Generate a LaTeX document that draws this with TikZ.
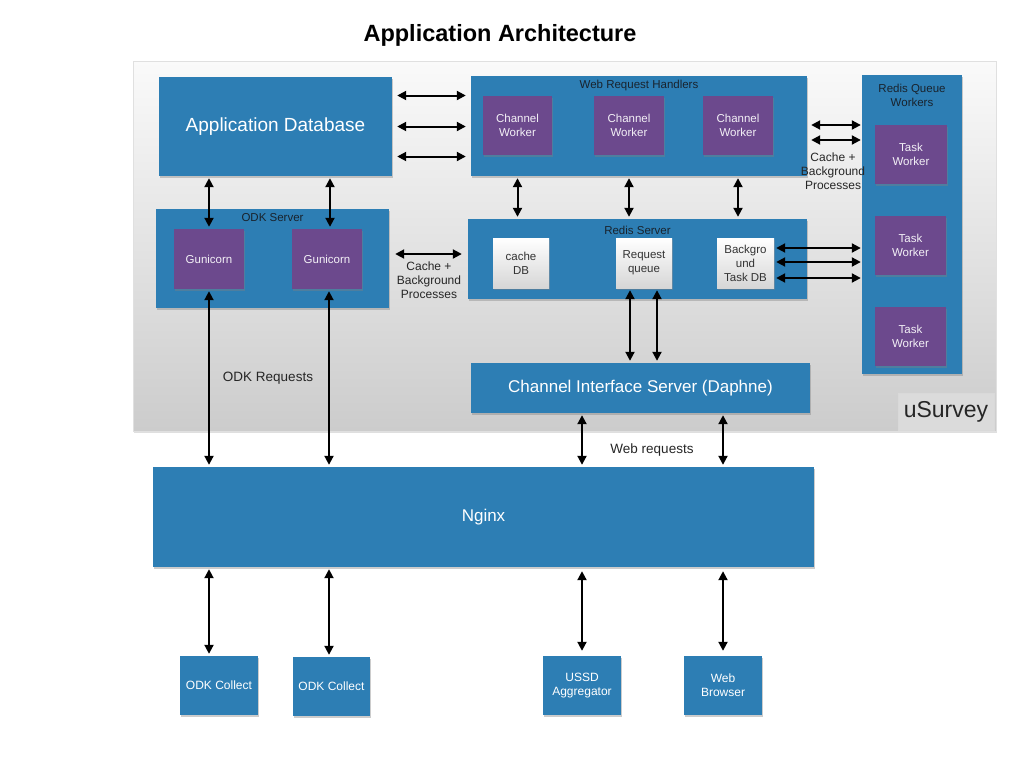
\documentclass[tikz,border=0pt]{standalone}
\usepackage{fontspec}
\setmainfont{Liberation Sans}
\usetikzlibrary{arrows.meta,shadows,calc}
\definecolor{cblue}{RGB}{45,126,180}
\definecolor{cpurple}{RGB}{108,73,141}
\definecolor{labeltxt}{RGB}{25,35,45}
\definecolor{paneltop}{RGB}{250,250,250}
\definecolor{panelbot}{RGB}{204,204,204}
\tikzset{
  fs/.style={font=\fontsize{#1}{14}\selectfont},
  shadowed/.style={drop shadow={shadow xshift=1pt,shadow yshift=-1.5pt,opacity=0.4}},
  bluebox/.style={fill=cblue, draw=none, inner sep=0pt, shadowed, text=white, align=center},
  purplebox/.style={fill=cpurple, draw=none, inner sep=0pt, shadowed, text=white!92!cpurple, align=center, fs=11.5},
  dbbox/.style={top color=white, bottom color=black!16, draw=none, inner sep=0pt, shadowed, text=black!80, align=center, fs=11.5, minimum width=56pt, minimum height=50pt},
  lbl/.style={text=labeltxt, inner sep=0pt, align=center, fs=11.5},
  plain/.style={text=black!85, inner sep=0pt, align=center},
  arr/.style={line width=2pt, {Triangle[length=9pt,width=9pt]}-{Triangle[length=9pt,width=9pt]}, shorten >=2pt, shorten <=2pt}
}
\begin{document}
\begin{tikzpicture}[x=1pt,y=-1pt]
\useasboundingbox (0,0) rectangle (1024,768);
% title
\node[inner sep=0pt, font=\fontsize{23.5}{28}\selectfont\bfseries] (title) at (500,35) {Application Architecture};
% panel
\node[top color=paneltop, bottom color=panelbot, draw=black!12, inner sep=0pt, minimum width=863pt, minimum height=370pt, drop shadow={shadow xshift=1pt,shadow yshift=-1.5pt,opacity=0.25}] (panel) at (564.5,246) {};
\node[fill=black!14, draw=white!70!gray, line width=0.6pt, inner sep=0pt, minimum width=96pt, minimum height=37pt, text=black!85, font=\fontsize{23}{28}\selectfont] (usurvey) at (946,411.5) {uSurvey};
% application database
\node[bluebox, minimum width=233pt, minimum height=99pt, font=\fontsize{19}{23}\selectfont] (appdb) at (275.5,126.5) {Application Database};
% web request handlers
\node[bluebox, minimum width=336pt, minimum height=100pt] (wrh) at (639,126) {};
\node[lbl] (wrhl) at (639,86) {Web Request Handlers};
\node[purplebox, minimum width=69pt, minimum height=59pt] (cw1) at (517.5,125.5) {Channel\\Worker};
\node[purplebox, minimum width=70pt, minimum height=59pt] (cw2) at (629,125.5) {Channel\\Worker};
\node[purplebox, minimum width=70pt, minimum height=59pt] (cw3) at (738,125.5) {Channel\\Worker};
% redis queue workers
\node[bluebox, minimum width=100pt, minimum height=299pt] (rqw) at (912,224.5) {};
\node[lbl] (rqwl) at (912,95) {Redis Queue\\Workers};
\node[purplebox, minimum width=72pt, minimum height=59pt] (tw1) at (911,154.5) {Task\\Worker};
\node[purplebox, minimum width=71pt, minimum height=59pt] (tw2) at (910.5,245.5) {Task\\Worker};
\node[purplebox, minimum width=71pt, minimum height=59pt] (tw3) at (910.5,336.5) {Task\\Worker};
% odk server
\node[bluebox, minimum width=233pt, minimum height=99pt] (odk) at (272.5,258.5) {};
\node[lbl] (odkl) at (272.5,218) {ODK Server};
\node[purplebox, minimum width=70pt, minimum height=60pt] (g1) at (209,259) {Gunicorn};
\node[purplebox, minimum width=70pt, minimum height=60pt] (g2) at (327,259) {Gunicorn};
% redis server
\node[bluebox, minimum width=339pt, minimum height=80pt] (redis) at (637.5,259) {};
\node[lbl] (redisl) at (637.5,230) {Redis Server};
\node[dbbox] (cachedb) at (521,263) {cache\\DB};
\node[dbbox] (reqq) at (644,263) {Request\\queue};
\node[dbbox, minimum width=57pt] (bgdb) at (745.5,263) {Backgro\\und\\Task DB};
% channel interface server
\node[bluebox, minimum width=339pt, minimum height=50pt, font=\fontsize{17}{20}\selectfont] (cis) at (640.5,388) {Channel Interface Server (Daphne)};
% nginx
\node[bluebox, minimum width=661pt, minimum height=100pt, font=\fontsize{17}{20}\selectfont] (nginx) at (483.5,517) {Nginx};
% clients
\node[bluebox, minimum width=78pt, minimum height=59pt, fs=12] (oc1) at (219,685.5) {ODK Collect};
\node[bluebox, minimum width=77pt, minimum height=59pt, fs=12] (oc2) at (331.5,686.5) {ODK Collect};
\node[bluebox, minimum width=78pt, minimum height=59pt, fs=12] (ussd) at (582,685.5) {USSD\\Aggregator};
\node[bluebox, minimum width=78pt, minimum height=59pt, fs=12] (web) at (723,685.5) {Web\\Browser};
% free text
\node[plain, fs=12] (cbg1) at (429,280) {Cache +\\Background\\Processes};
\node[plain, fs=12] (cbg2) at (833,171) {Cache +\\Background\\Processes};
\node[plain, font=\fontsize{13.5}{16}\selectfont] (odkreq) at (268,378) {ODK Requests};
\node[plain, font=\fontsize{13.5}{16}\selectfont] (webreq) at (652,450) {Web requests};
% arrows appdb - wrh
\foreach \d in {-31,0,30} {
  \draw[arr, shorten >=5pt, shorten <=5pt] ($(appdb.east)+(0,\d)$) coordinate (t) -- (t -| wrh.west);
}
% wrh - rqw
\foreach \d in {-1,14} {
  \draw[arr, shorten <=4pt, shorten >=1pt] ($(wrh.east)+(0,\d)$) coordinate (t) -- (t -| rqw.west);
}
% appdb - odk gunicorns
\draw[arr] (g1 |- appdb.south) -- (g1.north);
\draw[arr] ($(g2 |- appdb.south)+(3,0)$) -- ($(g2.north)+(3,0)$);
% wrh - redis
\draw[arr] (cw1 |- wrh.south) -- (cw1 |- redis.north);
\draw[arr] (cw2 |- wrh.south) -- (cw2 |- redis.north);
\draw[arr] (cw3 |- wrh.south) -- (cw3 |- redis.north);
% odk - redis
\draw[arr, shorten >=6pt, shorten <=6pt] ($(odk.east)+(0,-4.5)$) coordinate (t) -- (t -| redis.west);
% bgdb - rqw
\foreach \d in {-15,-1,15} {
  \draw[arr, shorten >=1pt] ($(bgdb.east)+(0,\d)$) coordinate (t) -- (t -| rqw.west);
}
% reqq - cis
\draw[arr] ($(reqq.south)+(-14,0)$) coordinate (t) -- (t |- cis.north);
\draw[arr] ($(reqq.south)+(13,0)$) coordinate (t) -- (t |- cis.north);
% gunicorn - nginx
\draw[arr] (g1.south) -- (g1 |- nginx.north);
\draw[arr] ($(g2.south)+(2,0)$) coordinate (t) -- (t |- nginx.north);
% cis - nginx
\draw[arr] (ussd |- cis.south) -- (ussd |- nginx.north);
\draw[arr] (web |- cis.south) -- (web |- nginx.north);
% nginx - clients
\draw[arr] (g1 |- nginx.south) -- (g1 |- oc1.north);
\draw[arr] ($(g2 |- nginx.south)+(2,0)$) coordinate (t) -- (t |- oc2.north);
\draw[arr, shorten <=4pt, shorten >=5pt] (ussd |- nginx.south) -- (ussd.north);
\draw[arr, shorten <=4pt, shorten >=5pt] (web |- nginx.south) -- (web.north);
\end{tikzpicture}
\end{document}
